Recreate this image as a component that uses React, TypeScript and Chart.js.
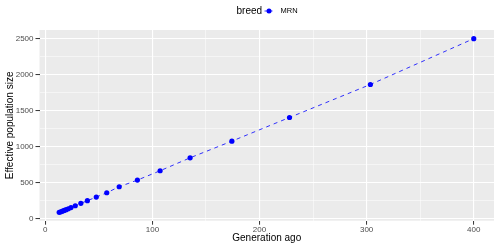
import React, { useEffect, useRef } from 'react';
import { Chart, registerables } from 'chart.js';

Chart.register(...registerables);

const seriesName = 'MRN';
const legendTitle = 'breed';
const xTitle = 'Generation ago';
const yTitle = 'Effective population size';

const generations = [13, 14.5, 16, 17.7, 19.5, 21.5, 24, 28, 33.2, 39.3, 47.6, 57.4, 69, 86, 107.2, 135.2, 174.2, 228, 303.5, 400];
const effectiveSize = [88, 96, 105, 115, 126, 138, 155, 180, 214, 250, 301, 361, 444, 537, 667, 847, 1079, 1408, 1867, 2505];

const xTicks = [0, 50, 100, 150, 200, 250, 300, 350, 400];
const yTicks = [0, 250, 500, 750, 1000, 1250, 1500, 1750, 2000, 2250, 2500];

const FONT = "'Liberation Sans', Arial, sans-serif";

export default function App() {
  const ref = useRef<HTMLCanvasElement | null>(null);

  useEffect(() => {
    const canvas = ref.current;
    if (!canvas) return;

    const panelPlugin = {
      id: 'panel',
      beforeDraw(chart: any) {
        const { ctx, chartArea } = chart;
        ctx.save();
        ctx.fillStyle = '#EBEBEB';
        ctx.fillRect(chartArea.left, chartArea.top, chartArea.right - chartArea.left, chartArea.bottom - chartArea.top);
        ctx.restore();
      },
      afterDraw(chart: any) {
        const { ctx, chartArea } = chart;
        ctx.save();
        ctx.fillStyle = '#000';
        ctx.font = `10px ${FONT}`;
        ctx.textAlign = 'center';
        ctx.textBaseline = 'middle';
        ctx.fillText(xTitle, (chartArea.left + chartArea.right) / 2, 238);
        ctx.save();
        ctx.translate(10, (chartArea.top + chartArea.bottom) / 2);
        ctx.rotate(-Math.PI / 2);
        ctx.fillText(yTitle, 0, 0);
        ctx.restore();

        // legend
        ctx.textAlign = 'left';
        ctx.font = `10px ${FONT}`;
        ctx.fillText(legendTitle, 236.5, 11);
        ctx.strokeStyle = 'blue';
        ctx.lineWidth = 0.8;
        ctx.setLineDash([3, 2]);
        ctx.beginPath();
        ctx.moveTo(264.5, 11);
        ctx.lineTo(274, 11);
        ctx.stroke();
        ctx.setLineDash([]);
        ctx.fillStyle = 'blue';
        ctx.beginPath();
        ctx.arc(269, 11, 2.5, 0, Math.PI * 2);
        ctx.fill();
        ctx.fillStyle = '#000';
        ctx.font = `7.5px ${FONT}`;
        ctx.fillText(seriesName, 280.5, 11);
        ctx.restore();
      },
    };

    const chart = new Chart(canvas, {
      type: 'scatter',
      data: {
        datasets: [
          {
            label: seriesName,
            data: generations.map((g, i) => ({ x: g, y: effectiveSize[i] })),
            showLine: true,
            borderColor: 'blue',
            borderWidth: 0.8,
            borderDash: [4, 4],
            backgroundColor: 'blue',
            pointBackgroundColor: 'blue',
            pointBorderColor: 'blue',
            pointBorderWidth: 0,
            pointRadius: 2.6,
          },
        ],
      },
      options: {
        responsive: false,
        animation: false,
        events: [],
        layout: { padding: { top: 30, right: 6, left: 0, bottom: 0 } },
        plugins: {
          legend: { display: false },
          tooltip: { enabled: false },
        },
        scales: {
          x: {
            type: 'linear',
            min: -5.4,
            max: 418.9,
            afterBuildTicks: (s: any) => {
              s.ticks = xTicks.map((v) => ({ value: v }));
            },
            afterFit: (s: any) => {
              s.height = 30.3;
            },
            border: { display: false },
            grid: {
              color: '#FFFFFF',
              lineWidth: (c: any) => (c.tick && c.tick.value % 100 === 0 ? 1.1 : 0.5),
              tickColor: (c: any) => (c.tick && c.tick.value % 100 === 0 ? '#333333' : 'rgba(0,0,0,0)'),
              tickWidth: 1,
              tickLength: 4,
            },
            ticks: {
              autoSkip: false,
              maxRotation: 0,
              padding: 0,
              color: '#4D4D4D',
              font: { size: 8, family: FONT },
              callback: (v: any) => (Number(v) % 100 === 0 ? String(v) : ''),
            },
          },
          y: {
            type: 'linear',
            min: -28,
            max: 2625,
            afterBuildTicks: (s: any) => {
              s.ticks = yTicks.map((v) => ({ value: v }));
            },
            afterFit: (s: any) => {
              s.width = 39.5;
            },
            border: { display: false },
            grid: {
              color: '#FFFFFF',
              lineWidth: (c: any) => (c.tick && c.tick.value % 500 === 0 ? 1.1 : 0.5),
              tickColor: (c: any) => (c.tick && c.tick.value % 500 === 0 ? '#333333' : 'rgba(0,0,0,0)'),
              tickWidth: 1,
              tickLength: 4,
            },
            ticks: {
              autoSkip: false,
              padding: 2,
              color: '#4D4D4D',
              font: { size: 8, family: FONT },
              callback: (v: any) => (Number(v) % 500 === 0 ? String(v) : ''),
            },
          },
        },
      },
      plugins: [panelPlugin],
    });

    return () => chart.destroy();
  }, []);

  return (
    <div style={{ position: 'absolute', left: 0, top: 0, width: 500, height: 251, background: '#fff' }}>
      <canvas ref={ref} width={500} height={251} style={{ width: 500, height: 251, display: 'block' }} />
    </div>
  );
}
